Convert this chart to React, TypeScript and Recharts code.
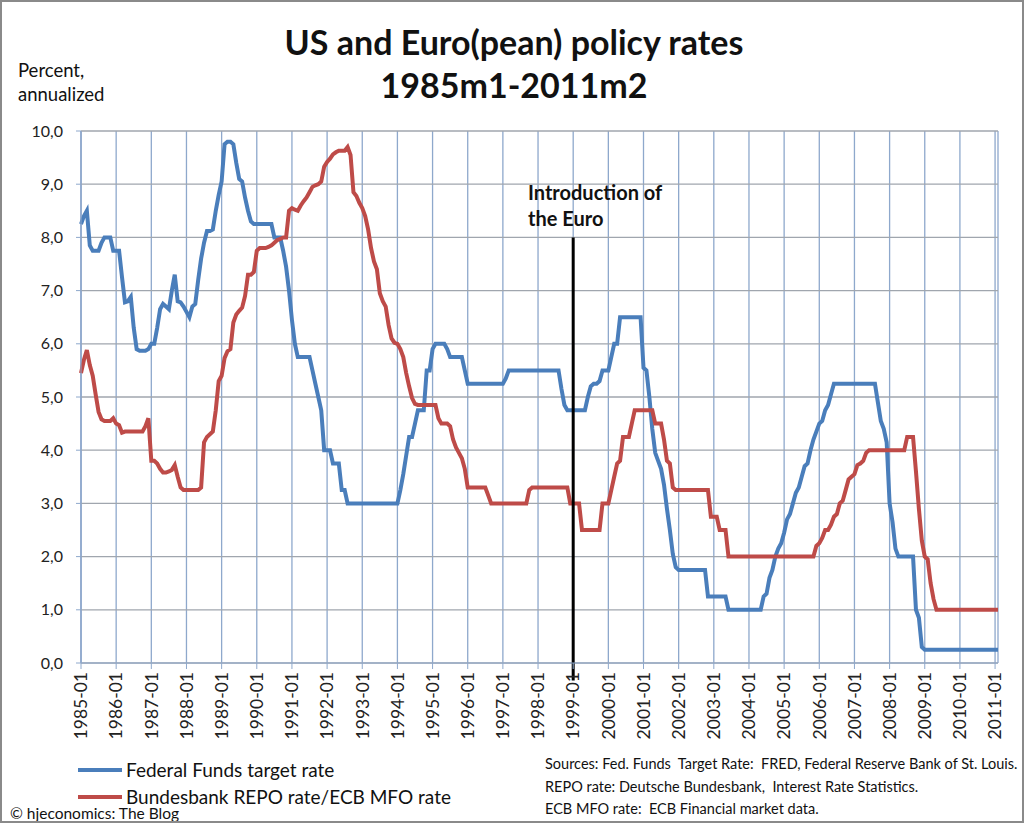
import React from 'react';
import { LineChart, Line, XAxis, YAxis, CartesianGrid, ReferenceLine, Legend } from 'recharts';

// monthly series, 1985m1 .. 2011m2 (one row per year)
const fedFunds1985to1994 = [
  8.25, 8.4, 8.5, 7.85, 7.75, 7.75, 7.75, 7.9, 8.0, 8.0, 8.0, 7.75,
  7.75, 7.75, 7.25, 6.78, 6.8, 6.88, 6.3, 5.9, 5.87, 5.87, 5.87, 5.9,
  6.0, 6.0, 6.3, 6.65, 6.75, 6.7, 6.65, 7.0, 7.3, 6.8, 6.78, 6.7,
  6.6, 6.5, 6.7, 6.75, 7.2, 7.6, 7.9, 8.12, 8.12, 8.15, 8.5, 8.8,
  9.05, 9.75, 9.8, 9.8, 9.75, 9.4, 9.1, 9.05, 8.75, 8.5, 8.3, 8.25,
  8.25, 8.25, 8.25, 8.25, 8.25, 8.25, 8.0, 8.0, 8.0, 7.75, 7.45, 7.0,
  6.45, 6.0, 5.75, 5.75, 5.75, 5.75, 5.75, 5.5, 5.25, 5.0, 4.75, 4.0,
  4.0, 4.0, 3.75, 3.75, 3.75, 3.25, 3.25, 3.0, 3.0, 3.0, 3.0, 3.0,
  3.0, 3.0, 3.0, 3.0, 3.0, 3.0, 3.0, 3.0, 3.0, 3.0, 3.0, 3.0,
  3.0, 3.25, 3.55, 3.9, 4.25, 4.25, 4.5, 4.75, 4.75, 4.75, 5.5, 5.5,
];
const fedFunds1995to2004 = [
  5.9, 6.0, 6.0, 6.0, 6.0, 5.9, 5.75, 5.75, 5.75, 5.75, 5.75, 5.5,
  5.25, 5.25, 5.25, 5.25, 5.25, 5.25, 5.25, 5.25, 5.25, 5.25, 5.25, 5.25,
  5.25, 5.35, 5.5, 5.5, 5.5, 5.5, 5.5, 5.5, 5.5, 5.5, 5.5, 5.5,
  5.5, 5.5, 5.5, 5.5, 5.5, 5.5, 5.5, 5.5, 5.15, 4.85, 4.75, 4.75,
  4.75, 4.75, 4.75, 4.75, 4.75, 5.0, 5.2, 5.25, 5.25, 5.3, 5.5, 5.5,
  5.5, 5.75, 6.0, 6.0, 6.5, 6.5, 6.5, 6.5, 6.5, 6.5, 6.5, 6.5,
  5.55, 5.5, 5.0, 4.4, 3.95, 3.8, 3.65, 3.35, 2.9, 2.5, 2.05, 1.8,
  1.75, 1.75, 1.75, 1.75, 1.75, 1.75, 1.75, 1.75, 1.75, 1.75, 1.25, 1.25,
  1.25, 1.25, 1.25, 1.25, 1.25, 1.0, 1.0, 1.0, 1.0, 1.0, 1.0, 1.0,
  1.0, 1.0, 1.0, 1.0, 1.0, 1.25, 1.3, 1.6, 1.75, 2.0, 2.15, 2.25,
];
const fedFunds2005to2011 = [
  2.45, 2.7, 2.8, 3.0, 3.2, 3.3, 3.5, 3.7, 3.75, 4.0, 4.2, 4.35,
  4.5, 4.55, 4.75, 4.85, 5.05, 5.25, 5.25, 5.25, 5.25, 5.25, 5.25, 5.25,
  5.25, 5.25, 5.25, 5.25, 5.25, 5.25, 5.25, 5.25, 4.9, 4.55, 4.4, 4.15,
  3.0, 2.65, 2.15, 2.0, 2.0, 2.0, 2.0, 2.0, 2.0, 1.0, 0.85, 0.3,
  0.25, 0.25, 0.25, 0.25, 0.25, 0.25, 0.25, 0.25, 0.25, 0.25, 0.25, 0.25,
  0.25, 0.25, 0.25, 0.25, 0.25, 0.25, 0.25, 0.25, 0.25, 0.25, 0.25, 0.25,
  0.25, 0.25,
];

const repo1985to1994 = [
  5.45, 5.7, 5.88, 5.6, 5.4, 5.05, 4.72, 4.58, 4.55, 4.55, 4.55, 4.6,
  4.5, 4.47, 4.33, 4.35, 4.35, 4.35, 4.35, 4.35, 4.35, 4.35, 4.45, 4.6,
  3.8, 3.8, 3.75, 3.65, 3.58, 3.58, 3.6, 3.63, 3.72, 3.5, 3.3, 3.25,
  3.25, 3.25, 3.25, 3.25, 3.25, 3.3, 4.15, 4.25, 4.3, 4.35, 4.75, 5.3,
  5.4, 5.73, 5.86, 5.9, 6.4, 6.55, 6.62, 6.68, 6.9, 7.3, 7.3, 7.35,
  7.75, 7.8, 7.8, 7.8, 7.82, 7.85, 7.9, 7.95, 7.97, 8.0, 8.0, 8.5,
  8.55, 8.52, 8.5, 8.6, 8.68, 8.75, 8.85, 8.95, 8.98, 9.0, 9.05, 9.33,
  9.42, 9.48, 9.56, 9.6, 9.63, 9.63, 9.63, 9.7, 9.55, 8.85, 8.78, 8.65,
  8.55, 8.4, 8.15, 7.8, 7.55, 7.4, 6.95, 6.8, 6.7, 6.35, 6.1, 6.02,
  6.0, 5.9, 5.75, 5.45, 5.2, 4.98, 4.87, 4.85, 4.85, 4.85, 4.85, 4.85,
];
const repo1995to2004 = [
  4.85, 4.85, 4.6, 4.5, 4.5, 4.5, 4.45, 4.2, 4.05, 3.95, 3.85, 3.65,
  3.3, 3.3, 3.3, 3.3, 3.3, 3.3, 3.3, 3.15, 3.0, 3.0, 3.0, 3.0,
  3.0, 3.0, 3.0, 3.0, 3.0, 3.0, 3.0, 3.0, 3.0, 3.25, 3.3, 3.3,
  3.3, 3.3, 3.3, 3.3, 3.3, 3.3, 3.3, 3.3, 3.3, 3.3, 3.3, 3.0,
  3.0, 3.0, 3.0, 2.5, 2.5, 2.5, 2.5, 2.5, 2.5, 2.5, 3.0, 3.0,
  3.0, 3.25, 3.5, 3.75, 3.8, 4.25, 4.25, 4.25, 4.5, 4.75, 4.75, 4.75,
  4.75, 4.75, 4.75, 4.75, 4.5, 4.5, 4.5, 4.2, 3.8, 3.75, 3.3, 3.25,
  3.25, 3.25, 3.25, 3.25, 3.25, 3.25, 3.25, 3.25, 3.25, 3.25, 3.25, 2.75,
  2.75, 2.75, 2.5, 2.5, 2.5, 2.0, 2.0, 2.0, 2.0, 2.0, 2.0, 2.0,
  2.0, 2.0, 2.0, 2.0, 2.0, 2.0, 2.0, 2.0, 2.0, 2.0, 2.0, 2.0,
];
const repo2005to2011 = [
  2.0, 2.0, 2.0, 2.0, 2.0, 2.0, 2.0, 2.0, 2.0, 2.0, 2.0, 2.2,
  2.25, 2.35, 2.5, 2.5, 2.6, 2.75, 2.8, 3.0, 3.05, 3.25, 3.45, 3.5,
  3.55, 3.72, 3.75, 3.8, 3.95, 4.0, 4.0, 4.0, 4.0, 4.0, 4.0, 4.0,
  4.0, 4.0, 4.0, 4.0, 4.0, 4.0, 4.25, 4.25, 4.25, 3.6, 2.9, 2.3,
  2.0, 1.95, 1.5, 1.2, 1.0, 1.0, 1.0, 1.0, 1.0, 1.0, 1.0, 1.0,
  1.0, 1.0, 1.0, 1.0, 1.0, 1.0, 1.0, 1.0, 1.0, 1.0, 1.0, 1.0,
  1.0, 1.0,
];

const fedFunds = [...fedFunds1985to1994, ...fedFunds1995to2004, ...fedFunds2005to2011];
const repo = [...repo1985to1994, ...repo1995to2004, ...repo2005to2011];

const firstYear = 1985;
const months = fedFunds.map((_, i) => {
  const y = firstYear + Math.floor(i / 12);
  const m = (i % 12) + 1;
  return `${y}-${m < 10 ? '0' + m : m}`;
});
const yTicks = [0, 1, 2, 3, 4, 5, 6, 7, 8, 9, 10];
const euroMonth = '1999-01';
const seriesOrder = ['fed', 'repo'];

const data = months.map((month, i) => ({ month, fed: fedFunds[i], repo: repo[i] }));

const FONT = 'Lato, "Open Sans", sans-serif';

function MonthTick({ x, y, payload }: any) {
  return (
    <text
      x={x}
      y={y}
      transform={`rotate(-90, ${x}, ${y})`}
      textAnchor="end"
      dy="0.36em"
      fontSize={17.5}
      fontFamily={FONT}
      fill="#222"
    >
      {payload.value}
    </text>
  );
}

const renderLegend = (props: any) => {
  const items = [...props.payload].sort(
    (a: any, b: any) => seriesOrder.indexOf(a.dataKey) - seriesOrder.indexOf(b.dataKey)
  );
  return (
    <div style={{ fontFamily: FONT }}>
      {items.map((entry: any) => (
        <div key={entry.value} style={{ display: 'flex', alignItems: 'center', height: 27 }}>
          <span style={{ display: 'inline-block', width: 44, height: 4, background: entry.color, marginRight: 4 }} />
          <span style={{ fontSize: 19, color: '#111' }}>{entry.value}</span>
        </div>
      ))}
    </div>
  );
};

const abs = (left: number, top: number, extra: React.CSSProperties = {}): React.CSSProperties => ({
  position: 'absolute',
  left,
  top,
  whiteSpace: 'nowrap',
  fontFamily: FONT,
  color: '#111',
  lineHeight: 1,
  ...extra,
});

export default function App() {
  return (
    <div
      style={{
        position: 'absolute',
        left: 0,
        top: 0,
        width: 1024,
        height: 823,
        background: '#fff',
        border: '2px solid #8a8a8a',
        boxSizing: 'border-box',
        overflow: 'hidden',
      }}
    >
      <div style={{ position: 'absolute', left: -2, top: -2 }}>
        <LineChart width={1024} height={823} data={data} margin={{ top: 131, right: 26, left: 0, bottom: 0 }}>
          <CartesianGrid horizontal={false} stroke="#8ea8cc" strokeWidth={1.3} />
          <CartesianGrid vertical={false} stroke="#a0a6ae" strokeWidth={1.3} />
          <XAxis
            dataKey="month"
            interval={11}
            height={160}
            tick={<MonthTick />}
            tickSize={6}
            tickMargin={3}
            stroke="#8ea8cc"
            padding={{ left: 0, right: 0 }}
          />
          <YAxis
            width={81}
            domain={[0, 10]}
            ticks={yTicks}
            tickFormatter={(v: number) => v.toFixed(1).replace('.', ',')}
            tick={{ fontSize: 16, fontFamily: FONT, fill: '#222' }}
            tickSize={5}
            tickMargin={13}
            stroke="#8ea8cc"
          />
          <Line
            type="linear"
            dataKey="fed"
            name="Federal Funds target rate"
            stroke="#4a7ebb"
            strokeWidth={4}
            dot={false}
            isAnimationActive={false}
          />
          <Line
            type="linear"
            dataKey="repo"
            name="Bundesbank REPO rate/ECB MFO rate"
            stroke="#be4b48"
            strokeWidth={4}
            dot={false}
            isAnimationActive={false}
          />
          <ReferenceLine
            segment={[
              { x: euroMonth, y: 8.0 },
              { x: euroMonth, y: -0.33 },
            ]}
            stroke="#000"
            strokeWidth={3}
            ifOverflow="visible"
          />
          <Legend
            layout="vertical"
            align="center"
            verticalAlign="middle"
            content={renderLegend}
            wrapperStyle={{ left: 78, top: 756, width: 420 }}
          />
        </LineChart>
      </div>

      <div style={abs(0, 23, { width: 1024, textAlign: 'center', fontSize: 34, fontWeight: 700 })}>
        US and Euro(pean) policy rates
      </div>
      <div style={abs(0, 66, { width: 1024, textAlign: 'center', fontSize: 34, fontWeight: 700 })}>
        1985m1-2011m2
      </div>

      <div style={abs(16, 59, { fontSize: 18.5 })}>Percent,</div>
      <div style={abs(16, 83, { fontSize: 18.5 })}>annualized</div>

      <div style={abs(526, 180, { fontSize: 20, fontWeight: 700 })}>Introduction of</div>
      <div style={abs(526, 206, { fontSize: 20, fontWeight: 700 })}>the Euro</div>

      <div style={abs(543, 755, { fontSize: 14.5 })}>
        Sources: Fed. Funds&nbsp; Target Rate:&nbsp; FRED, Federal Reserve Bank of St. Louis.
      </div>
      <div style={abs(543, 778, { fontSize: 14.5 })}>REPO rate: Deutsche Bundesbank,&nbsp; Interest Rate Statistics.</div>
      <div style={abs(543, 800, { fontSize: 14.5 })}>ECB MFO rate:&nbsp; ECB Financial market data.</div>

      <div style={abs(8, 804, { fontSize: 15.5 })}>© hjeconomics: The Blog</div>
    </div>
  );
}
